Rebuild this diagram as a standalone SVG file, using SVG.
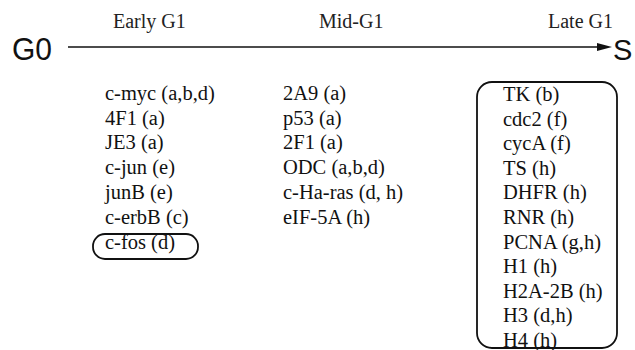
<svg xmlns="http://www.w3.org/2000/svg" width="635" height="350" viewBox="0 0 635 350">
<style>
.t{font-family:"Liberation Serif","Times New Roman",serif;font-size:20.5px;fill:#111}
.h{font-family:"Liberation Serif","Times New Roman",serif;font-size:20px;fill:#222}
.big{font-family:"Liberation Sans",Arial,sans-serif;font-size:31px;fill:#111}
.box{fill:none;stroke:#111;stroke-width:1.8}
.ln{stroke:#111;stroke-width:1.5;fill:none}
</style>
<rect width="635" height="350" fill="#fff"/>
<g id="phase-labels">
<text class="h" x="113" y="28">Early G1</text>
<text class="h" x="319" y="28">Mid-G1</text>
<text class="h" x="548" y="28">Late G1</text>
</g>
<g id="G0"><text class="big" x="12" y="60" textLength="40" lengthAdjust="spacingAndGlyphs">G0</text></g>
<g id="S"><text class="big" x="613" y="60" style="font-size:29px">S</text></g>
<g id="connectors">
<line class="ln" x1="68" y1="47" x2="600" y2="47"/>
<polygon points="597,43 612,47 597,51" fill="#111"/>
</g>
<g id="early-g1">
<text class="t" x="105" y="100">c-myc (a,b,d)</text>
<text class="t" x="105" y="124.7">4F1 (a)</text>
<text class="t" x="105" y="149.4">JE3 (a)</text>
<text class="t" x="105" y="174.1">c-jun (e)</text>
<text class="t" x="105" y="198.8">junB (e)</text>
<text class="t" x="105" y="223.5">c-erbB (c)</text>
<g id="c-fos">
<rect class="box" x="93" y="234" width="105" height="25" rx="12"/>
<text class="t" x="105" y="248.5">c-fos (d)</text>
</g>
</g>
<g id="mid-g1">
<text class="t" x="283" y="100">2A9 (a)</text>
<text class="t" x="283" y="124.7">p53 (a)</text>
<text class="t" x="283" y="149.4">2F1 (a)</text>
<text class="t" x="283" y="174.1">ODC (a,b,d)</text>
<text class="t" x="283" y="198.8">c-Ha-ras (d, h)</text>
<text class="t" x="283" y="223.5">eIF-5A (h)</text>
</g>
<g id="late-g1">
<rect class="box" x="477" y="82" width="140" height="266" rx="15"/>
<text class="t" x="503" y="101">TK (b)</text>
<text class="t" x="503" y="125.6">cdc2 (f)</text>
<text class="t" x="503" y="150.2">cycA (f)</text>
<text class="t" x="503" y="174.8">TS (h)</text>
<text class="t" x="503" y="199.4">DHFR (h)</text>
<text class="t" x="503" y="224">RNR (h)</text>
<text class="t" x="503" y="248.6">PCNA (g,h)</text>
<text class="t" x="503" y="273.2">H1 (h)</text>
<text class="t" x="503" y="297.8">H2A-2B (h)</text>
<text class="t" x="503" y="322.4">H3 (d,h)</text>
<text class="t" x="503" y="347">H4 (h)</text>
</g>
</svg>
